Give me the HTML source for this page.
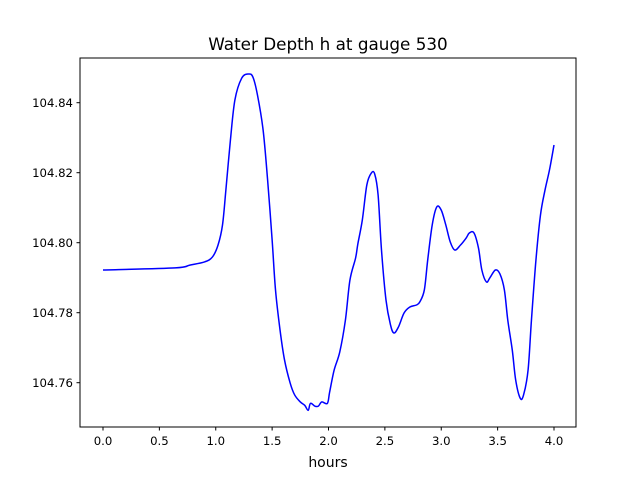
<!DOCTYPE html>
<html><head><meta charset="utf-8"><style>
body{margin:0;background:#fff}
svg text{font-family:"DejaVu Sans","Liberation Sans",sans-serif;fill:#000}
</style></head><body>
<svg width="640" height="480" viewBox="0 0 640 480">
<rect width="640" height="480" fill="#fff"/>
<text x="328" y="50" font-size="16.8" text-anchor="middle">Water Depth h at gauge 530</text>
<g id="ticks"></g>
<path id="line" fill="none" stroke="#0000ff" stroke-width="1.5" stroke-linejoin="round"/>
<rect x="80" y="58" width="496" height="369" fill="none" stroke="#000" stroke-width="1"/>
<text x="328" y="467" font-size="14" text-anchor="middle">hours</text>
</svg>
<script>
const hours=[0.00,0.64,0.77,0.90,0.97,1.02,1.06,1.09,1.13,1.17,1.23,1.29,1.33,1.37,1.42,1.46,1.50,1.53,1.57,1.61,1.66,1.70,1.75,1.79,1.82,1.84,1.88,1.91,1.94,1.99,2.01,2.05,2.10,2.15,2.19,2.24,2.26,2.30,2.34,2.38,2.41,2.44,2.47,2.51,2.55,2.58,2.62,2.67,2.72,2.78,2.81,2.85,2.88,2.92,2.96,3.00,3.04,3.08,3.12,3.17,3.22,3.25,3.29,3.33,3.36,3.40,3.43,3.48,3.52,3.56,3.59,3.63,3.66,3.70,3.73,3.77,3.80,3.84,3.88,3.92,3.96,4.00];
const depth=[104.7922,104.7928,104.7936,104.7945,104.7959,104.7993,104.8051,104.8151,104.8293,104.8408,104.8470,104.8482,104.8473,104.8422,104.8322,104.8179,104.8008,104.7865,104.7751,104.7665,104.7599,104.7565,104.7545,104.7535,104.7521,104.7541,104.7533,104.7533,104.7545,104.7541,104.7573,104.7636,104.7688,104.7779,104.7893,104.7956,104.7996,104.8065,104.8165,104.8199,104.8196,104.8136,104.7979,104.7836,104.7765,104.7742,104.7759,104.7799,104.7816,104.7822,104.7831,104.7865,104.7951,104.8051,104.8102,104.8093,104.8051,104.8002,104.7979,104.7993,104.8013,104.8028,104.8028,104.7985,104.7922,104.7888,104.7899,104.7922,104.7911,104.7865,104.7779,104.7693,104.7608,104.7556,104.7565,104.7636,104.7779,104.7951,104.8079,104.8150,104.8208,104.8279];
const xTicks=[0,0.5,1,1.5,2,2.5,3,3.5,4];
const xTickLabels=["0.0","0.5","1.0","1.5","2.0","2.5","3.0","3.5","4.0"];
const yTicks=[104.76,104.78,104.80,104.82,104.84];
const yTickLabels=["104.76","104.78","104.80","104.82","104.84"];
const X=v=>103+v*112.75;
const Y=v=>242.7-(v-104.80)*3500;
const ns="http://www.w3.org/2000/svg";
const g=document.getElementById('ticks');
function mk(t,a){const e=document.createElementNS(ns,t);for(const k in a)e.setAttribute(k,a[k]);g.appendChild(e);return e;}
xTicks.forEach((v,i)=>{
 const l=mk('line',{x1:X(v),x2:X(v),y1:427,y2:430.5,stroke:'#000'});
 
 
 const t=mk('text',{x:X(v),y:445,'font-size':11.7,'text-anchor':'middle'});t.textContent=xTickLabels[i];
 
 
});
yTicks.forEach((v,i)=>{
 const l=mk('line',{x1:76.5,x2:80,y1:Y(v),y2:Y(v),stroke:'#000'});
 
 
 const t=mk('text',{x:73,y:Y(v)+4.3,'font-size':11.7,'text-anchor':'end'});t.textContent=yTickLabels[i];
 
 
});
const pts=hours.map((h,i)=>[X(h),Y(depth[i])]);
let d='M'+pts[0][0]+','+pts[0][1];
for(let i=0;i<pts.length-1;i++){
 const p0=pts[Math.max(0,i-1)],p1=pts[i],p2=pts[i+1],p3=pts[Math.min(pts.length-1,i+2)];
 const c1=[p1[0]+(p2[0]-p0[0])/6,p1[1]+(p2[1]-p0[1])/6];
 const c2=[p2[0]-(p3[0]-p1[0])/6,p2[1]-(p3[1]-p1[1])/6];
 d+=' C'+c1[0]+','+c1[1]+' '+c2[0]+','+c2[1]+' '+p2[0]+','+p2[1];
}
document.getElementById('line').setAttribute('d',d);
</script>
</body></html>
